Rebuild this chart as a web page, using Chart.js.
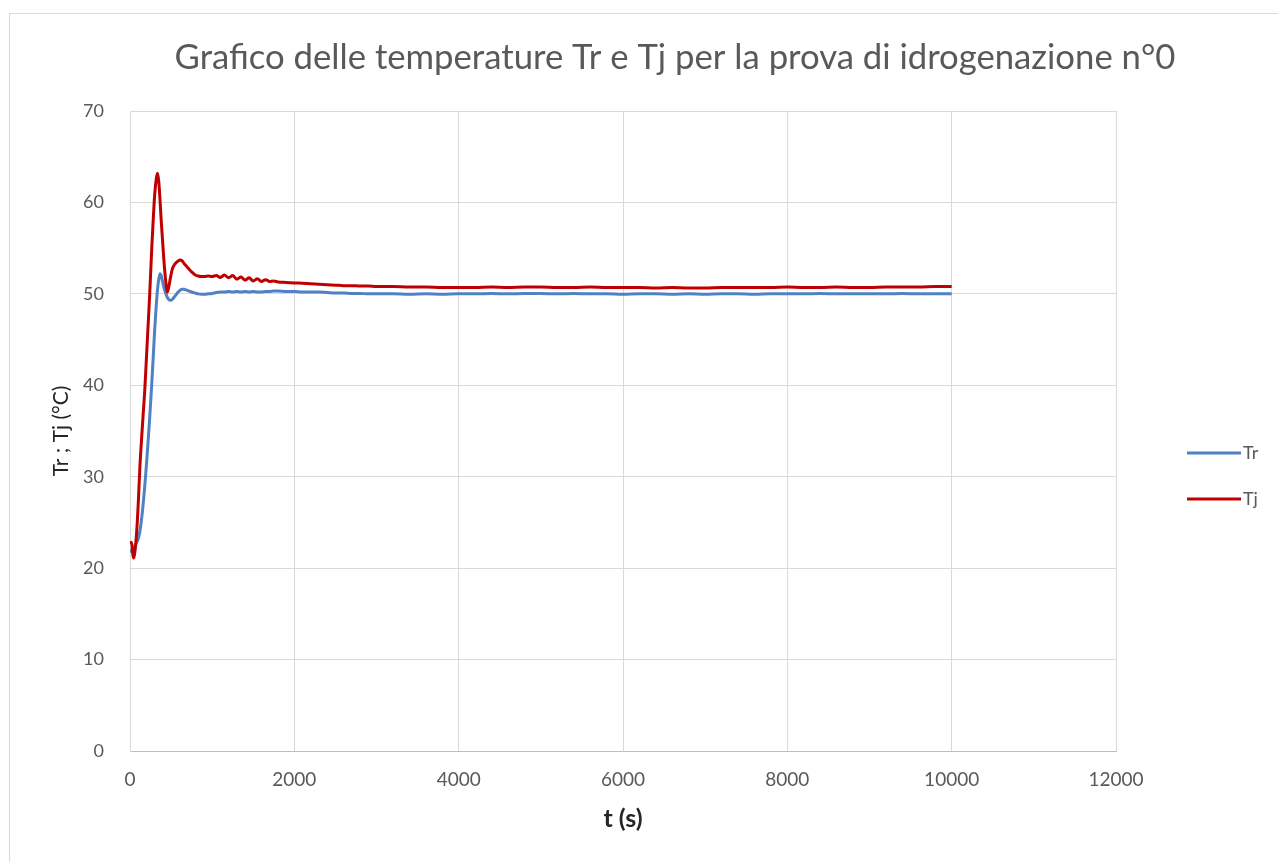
<!DOCTYPE html>
<html lang="it">
<head>
<meta charset="utf-8">
<title>Grafico delle temperature Tr e Tj</title>
<script src="https://cdn.jsdelivr.net/npm/chart.js@4.4.1/dist/chart.umd.min.js"></script>
<style>
  html, body { margin: 0; padding: 0; background: #ffffff; overflow: hidden; }
  #frame { position: absolute; left: 9px; top: 13px; width: 1300px; height: 900px;
           border: 1px solid #d9d9d9; box-sizing: border-box; }
  #wrap { position: absolute; left: 0; top: 0; width: 1278px; height: 862px; }
</style>
</head>
<body>
<div id="frame"></div>
<div id="wrap"><canvas id="chart" width="1278" height="862"></canvas></div>
<script>
// Tempo di prova (s)
const timeS = [
  0, 20, 40, 55, 80, 100, 120, 140, 160, 180,
  200, 220, 240, 265, 285, 300, 320, 335, 350, 365,
  380, 395, 410, 430, 455, 475, 495, 515, 535, 560,
  585, 610, 635, 660, 690, 720, 750, 790, 830, 870,
  910, 950, 1000, 1050, 1100, 1150, 1200, 1250, 1300, 1350,
  1400, 1450, 1500, 1550, 1600, 1650, 1700, 1750, 1800, 1900,
  2000, 2100, 2200, 2300, 2400, 2500, 2600, 2700, 2800, 2900,
  3000, 3200, 3400, 3600, 3800, 4000, 4200, 4400, 4600, 4800,
  5000, 5200, 5400, 5600, 5800, 6000, 6200, 6400, 6600, 6800,
  7000, 7200, 7400, 7600, 7800, 8000, 8200, 8400, 8600, 8800,
  9000, 9200, 9400, 9600, 9800, 10000
];

// Temperatura del reattore Tr (°C)
const trValues = [
  22.0, 21.8, 21.9, 22.3, 22.8, 23.2, 24.0, 25.3, 27.0, 29.0,
  31.3, 33.8, 36.5, 40.2, 43.5, 46.0, 48.8, 50.5, 51.6, 52.2,
  52.0, 51.4, 50.8, 50.2, 49.6, 49.35, 49.3, 49.4, 49.6, 49.9,
  50.2, 50.4, 50.5, 50.5, 50.4, 50.3, 50.2, 50.1, 50.0, 49.95,
  49.95, 50.0, 50.05, 50.15, 50.2, 50.2, 50.25, 50.2, 50.25, 50.2,
  50.25, 50.2, 50.25, 50.2, 50.2, 50.25, 50.25, 50.3, 50.3, 50.25,
  50.25, 50.2, 50.2, 50.2, 50.15, 50.1, 50.1, 50.05, 50.05, 50.0,
  50.0, 50.0, 49.95, 50.0, 49.95, 50.0, 50.0, 50.05, 50.0, 50.05,
  50.05, 50.0, 50.05, 50.0, 50.0, 49.95, 50.0, 50.0, 49.95, 50.0,
  49.95, 50.0, 50.0, 49.95, 50.0, 50.0, 50.0, 50.05, 50.0, 50.0,
  50.0, 50.0, 50.05, 50.0, 50.0, 50.0
];

// Temperatura della camicia Tj (°C)
const tjValues = [
  22.8, 22.8, 21.1, 21.5, 23.8, 27.0, 31.0, 34.0, 36.8, 39.5,
  43.0, 46.5, 50.0, 55.0, 58.5, 60.8, 62.6, 63.2, 62.3, 60.3,
  58.0, 56.0, 54.0, 51.8, 50.2, 50.9, 51.9, 52.7, 53.1, 53.4,
  53.6, 53.7, 53.6, 53.3, 53.0, 52.7, 52.4, 52.1, 51.95, 51.9,
  51.9, 51.95, 51.9, 52.0, 51.8, 52.05, 51.75, 52.0, 51.6, 51.85,
  51.5, 51.75, 51.4, 51.65, 51.35, 51.55, 51.35, 51.4, 51.3, 51.25,
  51.2, 51.15, 51.1, 51.05, 51.0, 50.95, 50.9, 50.9, 50.85, 50.85,
  50.8, 50.8, 50.75, 50.75, 50.7, 50.7, 50.7, 50.75, 50.7, 50.75,
  50.75, 50.7, 50.7, 50.75, 50.7, 50.7, 50.7, 50.65, 50.7, 50.65,
  50.65, 50.7, 50.7, 50.7, 50.7, 50.75, 50.7, 50.7, 50.75, 50.7,
  50.7, 50.75, 50.75, 50.75, 50.8, 50.8
];

const seriesNames = ['Tr', 'Tj'];
const chartTitle = 'Grafico delle temperature Tr e Tj per la prova di idrogenazione n°0';
const xTicks = [0, 2000, 4000, 6000, 8000, 10000, 12000];
const yTicks = [0, 10, 20, 30, 40, 50, 60, 70];

const toPoints = (vals) => timeS.map((t, i) => ({ x: t, y: vals[i] }));

const FONT = "Lato, 'Open Sans', 'Liberation Sans', sans-serif";
const GREY_TEXT = '#595959';
const GRID = '#d9d9d9';

// Titolo centrato sopra l'area del grafico
const headTitle = {
  id: 'headTitle',
  afterDraw(chart) {
    const ctx = chart.ctx;
    ctx.save();
    ctx.fillStyle = GREY_TEXT;
    ctx.font = '34.7px ' + FONT;
    ctx.textAlign = 'center';
    ctx.textBaseline = 'middle';
    ctx.fillText(chartTitle, 675, 58);
    ctx.restore();
  }
};

// Legenda a destra: linea + etichetta per ogni serie
const sideLegend = {
  id: 'sideLegend',
  afterDraw(chart) {
    const ctx = chart.ctx;
    const rows = [453, 499];
    ctx.save();
    chart.data.datasets.forEach((ds, i) => {
      const y = rows[i];
      ctx.strokeStyle = ds.borderColor;
      ctx.lineWidth = 3;
      ctx.lineCap = 'butt';
      ctx.beginPath();
      ctx.moveTo(1187, y);
      ctx.lineTo(1241, y);
      ctx.stroke();
      ctx.fillStyle = GREY_TEXT;
      ctx.font = '18px ' + FONT;
      ctx.textAlign = 'left';
      ctx.textBaseline = 'middle';
      ctx.fillText(ds.label, 1243, y);
    });
    ctx.restore();
  }
};

const plainNumber = (v) => String(v);

new Chart(document.getElementById('chart'), {
  type: 'line',
  data: {
    datasets: [
      {
        label: seriesNames[0],
        data: toPoints(trValues),
        borderColor: '#4f81c4',
        borderWidth: 3,
        pointRadius: 0,
        cubicInterpolationMode: 'monotone',
        order: 1
      },
      {
        label: seriesNames[1],
        data: toPoints(tjValues),
        borderColor: '#c00000',
        borderWidth: 3,
        pointRadius: 0,
        cubicInterpolationMode: 'monotone',
        order: 0
      }
    ]
  },
  options: {
    responsive: false,
    animation: false,
    layout: { padding: { left: 0, right: 162, top: 111, bottom: 0 } },
    plugins: {
      legend: { display: false },
      tooltip: { enabled: false },
      title: { display: false }
    },
    scales: {
      x: {
        type: 'linear',
        min: 0,
        max: 12000,
        afterBuildTicks(scale) { scale.ticks = xTicks.map(v => ({ value: v })); },
        afterFit(scale) { scale.height = 111; },
        ticks: {
          color: GREY_TEXT,
          font: { family: FONT, size: 19 },
          padding: 17,
          maxRotation: 0,
          autoSkip: false,
          callback: plainNumber
        },
        grid: { color: GRID, lineWidth: 1, drawTicks: false },
        border: { color: '#bfbfbf', width: 1 },
        title: {
          display: true,
          text: 't (s)',
          color: '#262626',
          font: { family: FONT, size: 25, weight: 'bold' },
          padding: { top: 0, bottom: 28 }
        }
      },
      y: {
        type: 'linear',
        min: 0,
        max: 70,
        afterBuildTicks(scale) { scale.ticks = yTicks.map(v => ({ value: v })); },
        afterFit(scale) { scale.width = 130; },
        ticks: {
          color: GREY_TEXT,
          font: { family: FONT, size: 18 },
          padding: 26,
          callback: plainNumber
        },
        grid: { color: GRID, lineWidth: 1, drawTicks: false },
        border: { color: GRID, width: 1 },
        title: {
          display: true,
          text: 'Tr ; Tj (°C)',
          color: '#262626',
          font: { family: FONT, size: 21, weight: 'normal' },
          padding: { top: 49, bottom: 0 }
        }
      }
    }
  },
  plugins: [headTitle, sideLegend]
});
</script>
</body>
</html>
